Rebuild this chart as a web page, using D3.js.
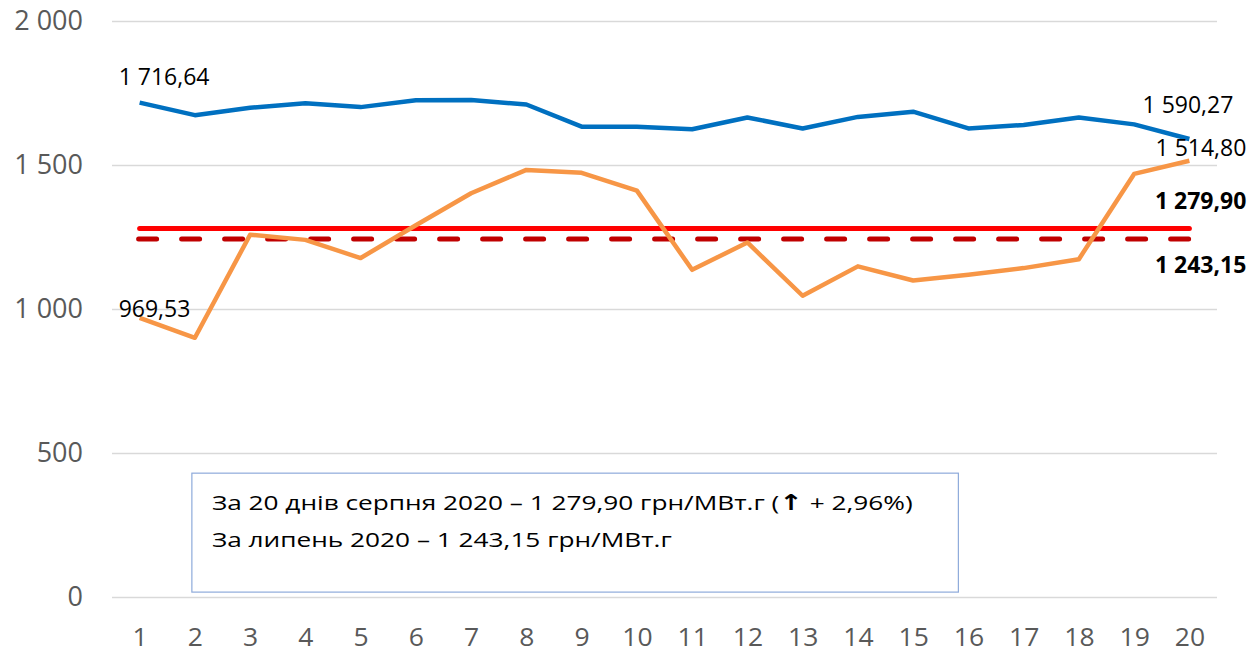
<!DOCTYPE html>
<html>
<head>
<meta charset="utf-8">
<script src="https://cdn.jsdelivr.net/npm/d3@7"></script>
<style>
  html, body { margin: 0; padding: 0; background: #fff; }
  svg { display: block; }
  .tick text { font-family: "Open Sans", sans-serif; fill: #595959; }
  .lbl { font-family: "Open Sans", sans-serif; fill: #000; }
</style>
</head>
<body>
<svg width="1251" height="654"></svg>
<script>
// Data
var days = d3.range(1, 21);
var dailyPrice = [1716.64, 1673, 1699, 1714, 1701, 1725, 1726, 1710, 1633, 1633,
                  1624, 1665, 1627, 1667, 1685, 1627, 1639, 1665, 1641, 1590.27];
var hourPrice = [969.53, 900, 1258, 1240, 1177, 1291, 1402, 1483, 1473, 1411,
                 1136, 1231, 1046, 1148, 1099, 1119, 1142, 1173, 1469, 1514.80];
var avgAugust = 1279.90;
var avgJuly = 1243.15;
var yTicks = [0, 500, 1000, 1500, 2000];
var noteLines = [
  ["За 20 днів серпня 2020 – 1 279,90 грн/МВт.г (", "\u2191", " + 2,96%)"],
  ["За липень 2020 – 1 243,15 грн/МВт.г"]
];

// Layout
var margin = { left: 112, right: 34, top: 21, bottom: 57 }
  , width = 1251
  , height = 654
  , innerW = width - margin.left - margin.right
  , innerH = height - margin.top - margin.bottom
  , fmt = function (n) {
      return d3.format(",.2f")(n).replace(/,/g, " ").replace(".", ",");
    }
  , fmtTick = function (n) { return d3.format(",")(n).replace(/,/g, " "); }
;

var svg = d3.select("svg")
  , g = svg.append("g").attr("transform", "translate(" + [margin.left, margin.top] + ")")
;

var x = d3.scalePoint().domain(days).range([0, innerW]).padding(0.5)
  , y = d3.scaleLinear().domain([0, 2000]).range([innerH, 0])
;

// Gridlines + y axis
var yAxisG = g.append("g")
    .call(d3.axisLeft(y).tickValues(yTicks).tickSize(-innerW).tickPadding(29).tickFormat(fmtTick));
yAxisG.select(".domain").remove();
yAxisG.selectAll(".tick line").attr("stroke", "#d9d9d9").attr("stroke-width", 1.3);
yAxisG.selectAll(".tick text").style("font-size", "27px").attr("dy", "0.3em");

// x axis
var xAxisG = g.append("g")
    .attr("transform", "translate(0," + innerH + ")")
    .call(d3.axisBottom(x).tickSize(0).tickPadding(31));
xAxisG.select(".domain").remove();
xAxisG.selectAll(".tick text").style("font-size", "25px")
    .attr("transform", "scale(1.06,1)");

// Note box
var boxTop = y(430), boxBottom = y(17)
  , boxLeft = x(2) - 3, boxRight = x(16) - 10;
var box = g.append("g");
box.append("rect")
    .attr("x", boxLeft).attr("y", boxTop)
    .attr("width", boxRight - boxLeft).attr("height", boxBottom - boxTop)
    .attr("fill", "#fff").attr("stroke", "#8eaadb").attr("stroke-width", 1.2);
var noteText = box.selectAll("g.note").data(noteLines).enter().append("g")
    .attr("class", "note")
    .attr("transform", function (d, i) {
        return "translate(" + (boxLeft + 20) + "," + (boxTop + 37 + i * 37) + ") scale(1.28,1)";
      })
  .append("text")
    .attr("class", "lbl")
    .style("font-size", "20.5px");
noteText.selectAll("tspan").data(function (d) { return d; }).enter().append("tspan")
    .style("font-family", function (d, i) { return i === 1 ? "'DejaVu Sans', sans-serif" : null; })
    .style("font-weight", function (d, i) { return i === 1 ? "bold" : null; })
    .style("font-size", function (d, i) { return i === 1 ? "22px" : null; })
    .text(function (d) { return d; });

// Average lines
g.append("line")
    .attr("x1", x(1)).attr("x2", x(20))
    .attr("y1", y(avgAugust)).attr("y2", y(avgAugust))
    .attr("stroke", "#ff0000").attr("stroke-width", 5).attr("stroke-linecap", "round");
g.append("line")
    .attr("x1", x(1) - 1).attr("x2", x(20))
    .attr("y1", y(avgJuly)).attr("y2", y(avgJuly))
    .attr("stroke", "#c00000").attr("stroke-width", 5).attr("stroke-linecap", "round")
    .attr("stroke-dasharray", "18,25");

// Series
var line = d3.line()
    .x(function (d, i) { return x(days[i]); })
    .y(function (d) { return y(d); });

g.append("path").datum(hourPrice)
    .attr("fill", "none").attr("stroke", "#f79646").attr("stroke-width", 4.5)
    .attr("stroke-linejoin", "round").attr("d", line);
g.append("path").datum(dailyPrice)
    .attr("fill", "none").attr("stroke", "#0070c0").attr("stroke-width", 4.5)
    .attr("stroke-linejoin", "round").attr("d", line);

// Data labels
var labels = [
  { v: fmt(dailyPrice[0]), x: x(1) - 21, y: y(dailyPrice[0]) - 18, a: "start", w: "normal" },
  { v: fmt(hourPrice[0]), x: x(1) - 21, y: y(hourPrice[0]) - 1, a: "start", w: "normal" },
  { v: fmt(dailyPrice[19]), x: x(20) + 44, y: y(dailyPrice[19]) - 26, a: "end", w: "normal" },
  { v: fmt(hourPrice[19]), x: x(20) + 57, y: y(hourPrice[19]) - 5, a: "end", w: "normal" },
  { v: fmt(avgAugust), x: x(20) + 57, y: y(avgAugust) - 19, a: "end", w: "bold" },
  { v: fmt(avgJuly), x: x(20) + 57, y: y(avgJuly) + 34, a: "end", w: "bold" }
];
g.selectAll(".dl").data(labels).enter().append("text")
    .attr("class", "lbl dl")
    .attr("x", function (d) { return d.x; })
    .attr("y", function (d) { return d.y; })
    .attr("text-anchor", function (d) { return d.a; })
    .style("font-size", "23px")
    .style("font-weight", function (d) { return d.w; })
    .text(function (d) { return d.v; });
</script>
</body>
</html>
